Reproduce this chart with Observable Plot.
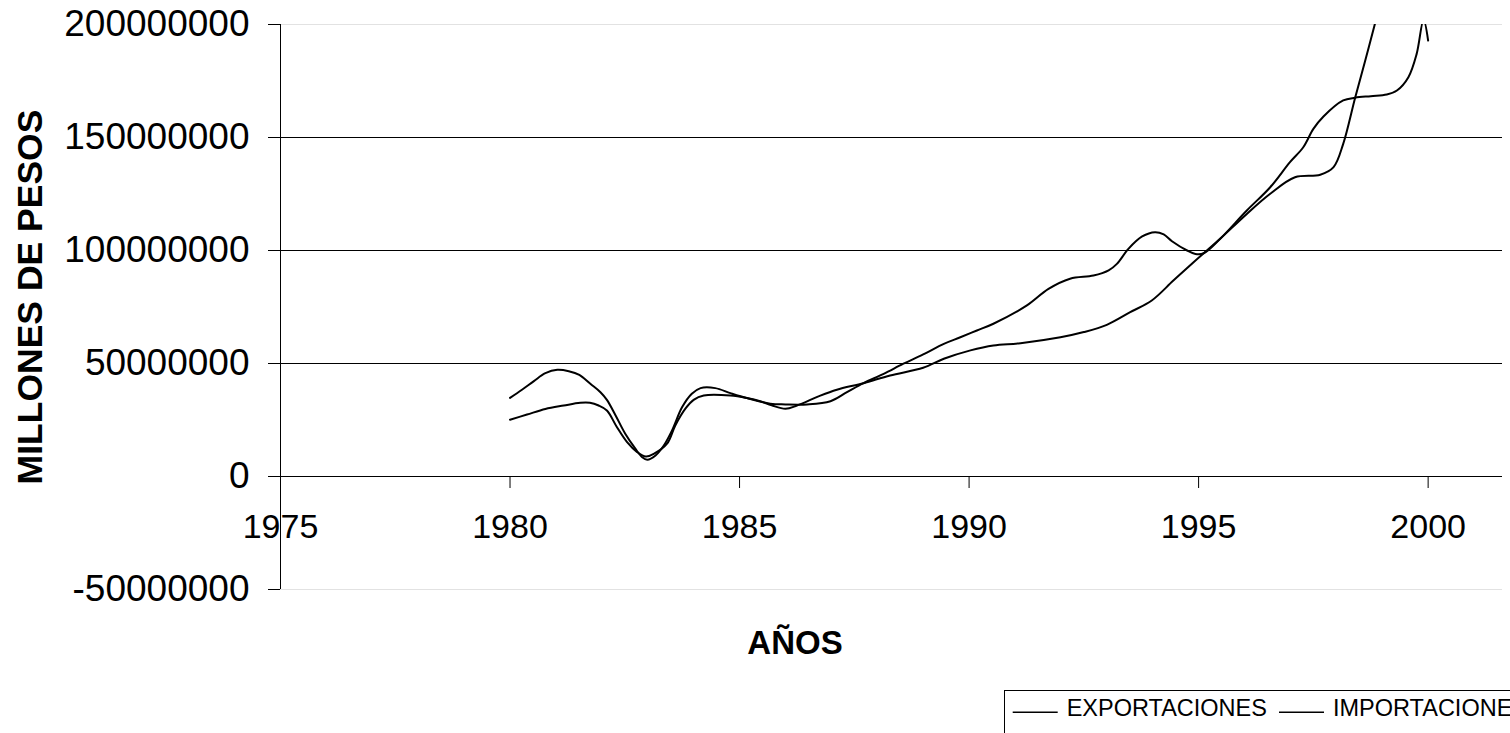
<!DOCTYPE html>
<html>
<head>
<meta charset="utf-8">
<script src="https://cdn.jsdelivr.net/npm/d3@7"></script>
<script src="https://cdn.jsdelivr.net/npm/@observablehq/plot@0.6"></script>
<style>
  html, body { margin: 0; padding: 0; background: #fff; overflow: hidden; }
  #wrap { position: relative; width: 1510px; height: 733px; overflow: hidden; background: #fff;
          font-family: "Liberation Sans", Arial, sans-serif; color: #000; }
  #chart { position: absolute; left: 0; top: 0; }
  .ytitle { position: absolute; left: 30px; top: 297px; transform: translate(-50%, -50%) rotate(-90deg);
            white-space: nowrap; font-weight: bold; font-size: 35.5px; }
  .xtitle { position: absolute; left: 795px; top: 643px; transform: translate(-50%, -50%);
            white-space: nowrap; font-weight: bold; font-size: 33px; }
  #legend { position: absolute; left: 1004px; top: 690px; }
</style>
</head>
<body>
<div id="wrap">
  <div id="chart"></div>
  <div class="ytitle">MILLONES DE PESOS</div>
  <div class="xtitle">AÑOS</div>
  <svg id="legend" width="700" height="60"></svg>
</div>
<script>
// ---- data ----
const seriesNames = ["EXPORTACIONES", "IMPORTACIONES"];

const expYears = [1980.00,1980.37,1980.77,1981.17,1981.53,1981.74,1981.93,1982.11,1982.33,1982.55,1982.77,1982.96,
  1983.13,1983.42,1983.60,1983.82,1984.00,1984.22,1984.80,1985.16,1985.45,1985.70,1986.00,1986.25,1986.76,1987.12,
  1987.70,1988.28,1989.00,1989.45,1990.03,1990.53,1991.12,1991.99,1992.50,1993.00,1993.51,1993.98,1994.45,1994.89,
  1995.18,1995.47,1996.05,1996.56,1997.10,1997.65,1997.94,1998.15,1998.41,1998.63,1998.85,1999.00];
const expValues = [25.1e6,27.4e6,29.9e6,31.4e6,32.6e6,32.6e6,31.4e6,29.2e6,21.8e6,15.2e6,10.8e6,8.8e6,
  10.0e6,14.5e6,22.6e6,30.0e6,33.9e6,35.8e6,35.8e6,34.7e6,33.3e6,31.5e6,30.0e6,31.4e6,35.8e6,38.4e6,
  41.3e6,44.7e6,48.1e6,52.1e6,55.8e6,58.0e6,59.0e6,61.6e6,63.9e6,67.1e6,72.7e6,77.9e6,86.7e6,94.8e6,
  100.0e6,105.2e6,116.2e6,125.1e6,132.4e6,133.5e6,136.9e6,147.2e6,167.6e6,184.1e6,201.0e6,213.0e6];

const impYears = [1980.00,1980.26,1980.52,1980.77,1981.03,1981.28,1981.51,1981.75,1981.97,1982.11,1982.30,1982.51,
  1982.73,1982.88,1982.99,1983.17,1983.35,1983.53,1983.75,1983.96,1984.15,1984.47,1984.80,1985.16,1985.67,1986.00,
  1986.47,1986.98,1987.34,1987.70,1988.14,1988.57,1989.00,1989.45,1989.81,1990.17,1990.53,1991.26,1991.73,1992.20,
  1992.71,1993.04,1993.22,1993.47,1993.77,1994.05,1994.24,1994.42,1994.75,1994.93,1995.11,1995.47,1996.05,1996.56,
  1996.99,1997.28,1997.50,1997.72,1998.15,1998.41,1998.75,1999.10,1999.32,1999.57,1999.75,1999.90,2000.00];
const impValues = [34.8e6,38.4e6,42.2e6,45.7e6,47.2e6,46.6e6,45.0e6,41.0e6,37.3e6,33.9e6,27.0e6,18.9e6,
  12.3e6,8.5e6,7.4e6,9.3e6,13.7e6,20.4e6,30.7e6,36.6e6,39.1e6,39.1e6,36.9e6,34.7e6,32.2e6,31.9e6,
  31.9e6,33.3e6,37.3e6,41.3e6,45.4e6,49.9e6,54.0e6,58.7e6,61.6e6,64.6e6,67.6e6,75.7e6,83.0e6,87.5e6,
  88.9e6,91.2e6,94.1e6,100.7e6,106.2e6,108.1e6,107.1e6,104.1e6,100.0e6,98.5e6,98.8e6,105.2e6,117.7e6,128.0e6,
  139.1e6,145.7e6,153.8e6,159.3e6,166.4e6,167.6e6,168.3e6,169.0e6,170.8e6,176.7e6,187.0e6,202.0e6,192.9e6];

const xTicks = [1975, 1980, 1985, 1990, 1995, 2000];
const yTicks = [-50000000, 0, 50000000, 100000000, 150000000, 200000000];
const yGridDark = [50000000, 100000000, 150000000];
const yGridLight = [-50000000, 200000000];

// ---- table for Plot ----
const rows = [
  ...expYears.map((t, i) => ({year: t, value: expValues[i], series: seriesNames[0]})),
  ...impYears.map((t, i) => ({year: t, value: impValues[i], series: seriesNames[1]}))
];

const chart = Plot.plot({
  width: 1510,
  height: 600,
  marginTop: 24,
  marginBottom: 11,
  marginLeft: 280,
  marginRight: 8,
  x: {domain: [1975, 2001.62], axis: null},
  y: {domain: [yTicks[0], yTicks[yTicks.length - 1]], axis: null},
  style: {fontFamily: "'Liberation Sans', Arial, sans-serif", fontSize: "34px", color: "#000", background: "#fff", overflow: "visible"},
  marks: [
    Plot.ruleY(yGridLight, {stroke: "#e2e2e2", strokeWidth: 1}),
    Plot.ruleY(yGridDark, {stroke: "#000", strokeWidth: 1}),
    Plot.ruleY([0], {stroke: "#000", strokeWidth: 1}),
    Plot.ruleX([xTicks[0]], {y1: () => yTicks[0], y2: () => yTicks[yTicks.length - 1], stroke: "#000", strokeWidth: 1}),
    Plot.axisY(yTicks, {anchor: "left", label: null, tickSize: 12, tickPadding: 19, tickFormat: d => String(d), fontSize: 37, stroke: "#000"}),
    Plot.ruleX(xTicks, {x: d => d, y1: () => 0, y2: () => 0, insetBottom: -12, stroke: "#000", strokeWidth: 1}),
    Plot.text(xTicks, {x: d => d, y: () => 0, dy: 51, text: d => String(d), fontSize: 34, fill: "#000"}),
    Plot.line(rows, {x: "year", y: "value", z: "series", stroke: "#000", strokeWidth: 2, curve: "catmull-rom", clip: true})
  ]
});
document.getElementById("chart").appendChild(chart);

// ---- legend ----
const lg = d3.select("#legend");
lg.append("rect").attr("x", 0.5).attr("y", 0.5).attr("width", 800).attr("height", 100)
  .attr("fill", "#fff").attr("stroke", "#000").attr("stroke-width", 1);
const legendX = [{line: 8.7, text: 62.7}, {line: 275, text: 329}];
seriesNames.forEach((name, i) => {
  lg.append("line").attr("x1", legendX[i].line).attr("x2", legendX[i].line + 45)
    .attr("y1", 22.3).attr("y2", 22.3).attr("stroke", "#000").attr("stroke-width", 1.5);
  lg.append("text").attr("x", legendX[i].text).attr("y", 25.7)
    .attr("font-family", "'Liberation Sans', Arial, sans-serif").attr("font-size", 23.5)
    .attr("fill", "#000").text(name);
});
</script>
</body>
</html>
